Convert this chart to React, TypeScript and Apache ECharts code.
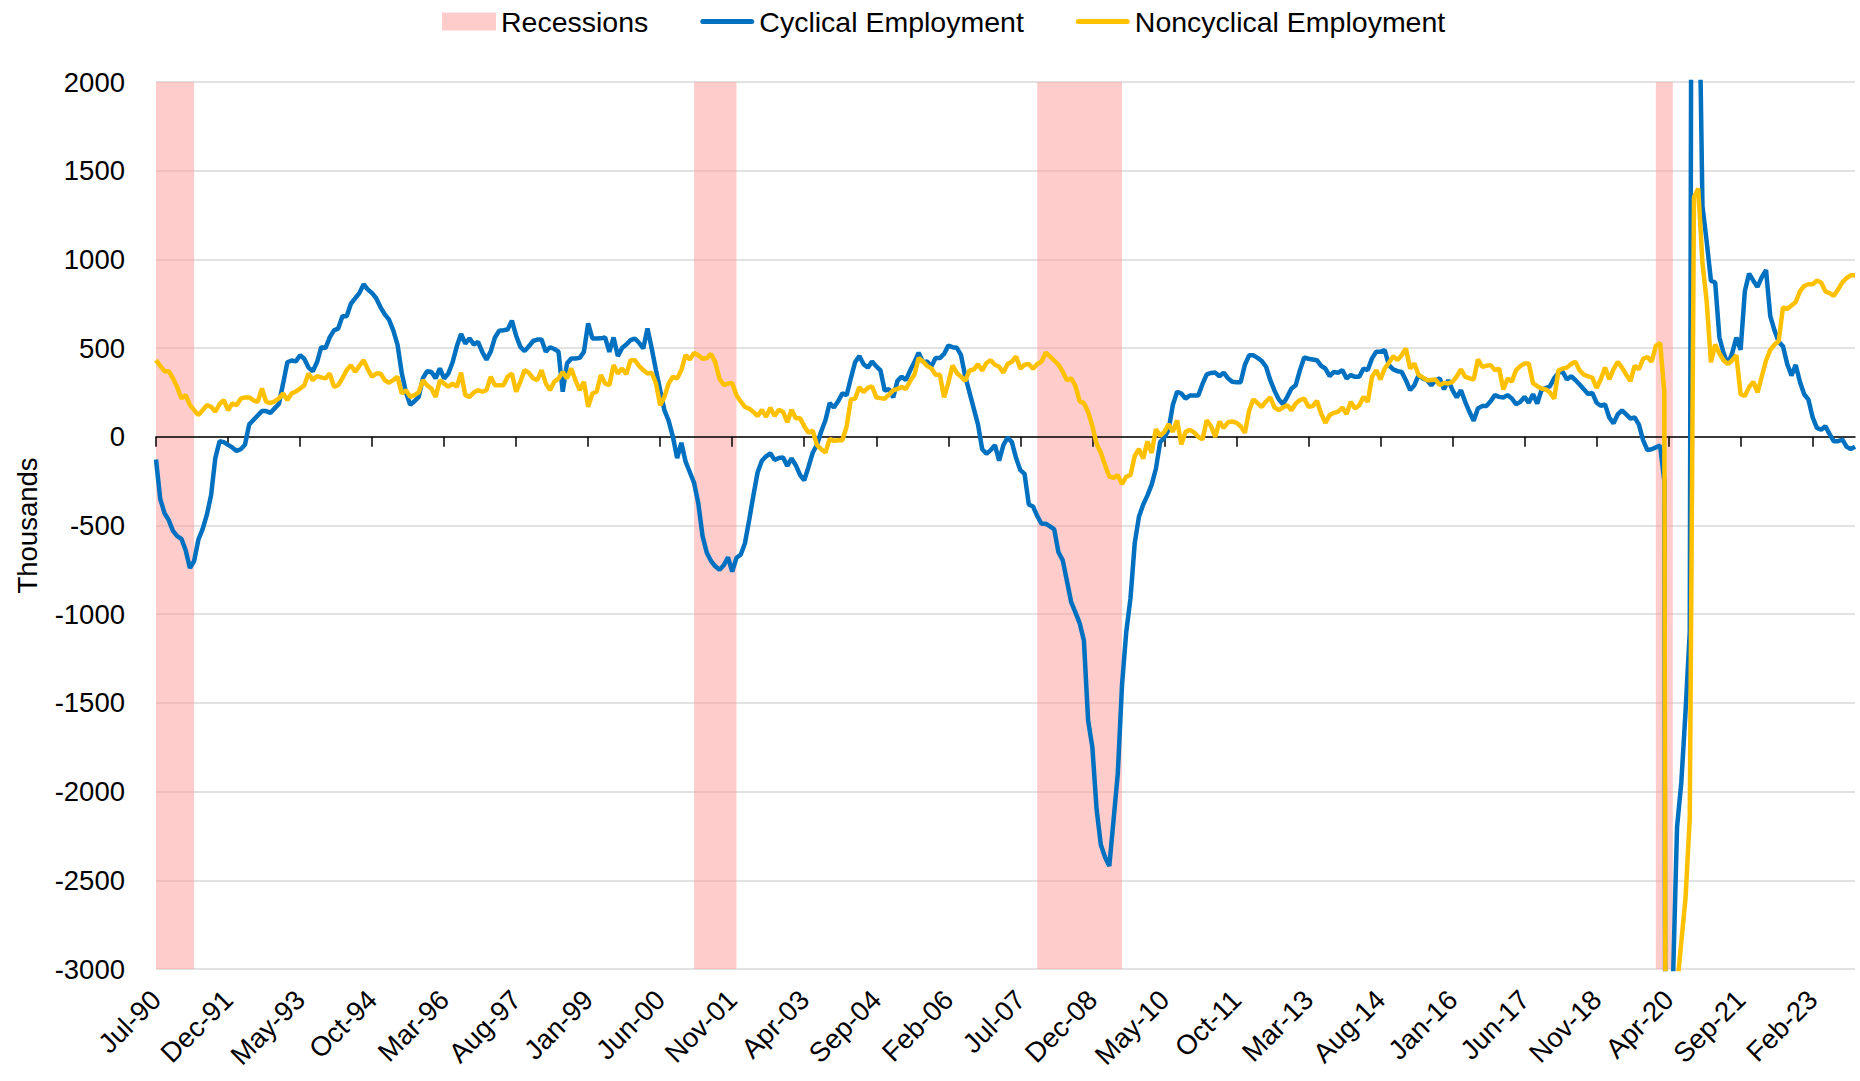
import React, { useEffect, useRef } from 'react';
import * as echarts from 'echarts';

// Monthly categories Jul-90 .. Dec-23
const MONTH_NAMES = ['Jan', 'Feb', 'Mar', 'Apr', 'May', 'Jun', 'Jul', 'Aug', 'Sep', 'Oct', 'Nov', 'Dec'];
const FIRST_YEAR = 1990;
const FIRST_MONTH = 6; // July (0-based)
const MONTH_COUNT = 402;
const categories: string[] = [];
for (let k = 0; k < MONTH_COUNT; k++) {
  const m = (FIRST_MONTH + k) % 12;
  const y = FIRST_YEAR + Math.floor((FIRST_MONTH + k) / 12);
  categories.push(`${MONTH_NAMES[m]}-${String(y % 100).padStart(2, '0')}`);
}

// Recession periods (start, end category)
const recessions: [string, string][] = [
  ['Jul-90', 'Apr-91'],
  ['Feb-01', 'Dec-01'],
  ['Nov-07', 'Jul-09'],
  ['Jan-20', 'May-20'],
];

// Cyclical Employment (thousands)
const cyclical: number[] = [
  -128, -350, -430, -470, -530, -560, -575, -640, -740, -700,
  -580, -520, -440, -330, -120, -25, -30, -45, -60, -80,
  -70, -45, 70, 95, 120, 145, 145, 135, 160, 185,
  300, 420, 430, 425, 460, 440, 390, 370, 420, 505,
  500, 560, 600, 610, 680, 680, 750, 780, 810, 860,
  830, 810, 780, 730, 690, 660, 600, 520, 360, 250,
  180, 200, 225, 330, 370, 365, 330, 385, 329, 357,
  420, 510, 580, 526, 555, 520, 535, 479, 435, 480,
  560, 598, 601, 605, 655, 570, 507, 483, 510, 540,
  548, 549, 480, 505, 495, 480, 254, 413, 441, 441,
  445, 480, 640, 554, 554, 555, 560, 479, 560, 455,
  500, 520, 545, 554, 530, 498, 611, 498, 376, 263,
  150, 90, 0, -120, -34, -140, -200, -260, -376, -560,
  -654, -700, -730, -750, -724, -680, -760, -682, -665, -600,
  -470, -330, -200, -135, -110, -93, -130, -120, -117, -164,
  -122, -160, -215, -245, -170, -90, -45, 30, 93, 190,
  165, 200, 245, 234, 330, 420, 456, 409, 390, 425,
  397, 374, 260, 269, 222, 315, 339, 320, 374, 421,
  474, 421, 425, 397, 444, 444, 467, 514, 505, 502,
  460, 340, 250, 160, 70, -70, -95, -75, -47, -134,
  -47, -4, -30, -120, -188, -209, -382, -393, -447, -490,
  -490, -505, -522, -651, -695, -813, -932, -990, -1050, -1148,
  -1600, -1750, -2100, -2300, -2370, -2420, -2161, -1900, -1400, -1100,
  -910, -600, -450, -382, -330, -270, -180, -30, -4, 40,
  180, 254, 244, 215, 233, 233, 233, 298, 352, 360,
  362, 341, 362, 330, 310, 308, 308, 406, 459, 459,
  445, 427, 395, 319, 260, 211, 184, 225, 272, 291,
  376, 447, 440, 436, 432, 400, 385, 342, 366, 361,
  376, 329, 348, 338, 338, 385, 376, 442, 479, 479,
  489, 404, 380, 370, 366, 319, 263, 291, 348, 329,
  319, 291, 319, 329, 267, 319, 263, 222, 263, 197,
  141, 90, 160, 173, 173, 200, 235, 225, 222, 235,
  216, 184, 197, 225, 192, 240, 188, 263, 275, 285,
  330, 360, 367, 324, 341, 320, 295, 268, 241, 248,
  192, 175, 182, 109, 76, 126, 149, 126, 103, 109,
  69, -20, -75, -70, -60, -50, -250, -15000, -3100, -2200,
  -1950, -1550, -1100, 9000, 2900, 1300, 1100, 880, 870, 560,
  470, 410, 470, 560, 490, 820, 920, 880, 845, 900,
  940, 680, 600, 535, 510, 410, 345, 405, 310, 240,
  210, 110, 50, 40, 60, 15, -25, -25, -15, -55,
  -70, -55,
];

// Noncyclical Employment (thousands)
const noncyclical: number[] = [
  432, 400, 370, 370, 330, 280, 216, 235, 180, 150,
  122, 150, 178, 169, 141, 185, 207, 150, 188, 178,
  215, 222, 222, 205, 197, 272, 197, 190, 200, 216,
  244, 207, 244, 255, 272, 290, 357, 319, 342, 335,
  329, 357, 282, 291, 330, 376, 404, 366, 400, 432,
  380, 338, 357, 357, 319, 305, 320, 338, 244, 263,
  225, 235, 250, 319, 290, 272, 225, 319, 300, 282,
  300, 282, 361, 235, 225, 250, 263, 254, 263, 338,
  291, 291, 291, 338, 357, 254, 310, 376, 360, 330,
  319, 376, 301, 263, 310, 329, 366, 329, 385, 319,
  263, 310, 169, 244, 254, 348, 301, 291, 404, 357,
  385, 353, 432, 432, 400, 376, 357, 361, 301, 178,
  225, 301, 338, 329, 376, 460, 436, 473, 460, 440,
  444, 467, 421, 327, 292, 300, 304, 234, 199, 168,
  159, 140, 117, 152, 112, 164, 117, 152, 140, 82,
  152, 105, 105, 60, 23, 35, -47, -70, -89, -12,
  -23, -20, -19, 58, 210, 215, 280, 252, 276, 285,
  222, 218, 215, 238, 262, 270, 280, 269, 315, 350,
  444, 425, 400, 386, 350, 350, 222, 304, 402, 360,
  339, 315, 374, 379, 409, 373, 416, 432, 406, 395,
  362, 410, 423, 453, 384, 406, 410, 384, 410, 423,
  475, 453, 430, 406, 367, 319, 330, 287, 201, 190,
  140, 60, -40, -90, -160, -224, -231, -216, -267, -224,
  -216, -108, -69, -123, -26, -91, 43, 6, 28, 71,
  28, 93, -43, 28, 39, 25, 0, -15, 93, 60,
  0, 86, 50, 82, 86, 80, 60, 22, 147, 211,
  190, 168, 200, 222, 165, 150, 165, 178, 150, 188,
  207, 216, 169, 173, 203, 131, 79, 122, 135, 141,
  165, 128, 197, 160, 178, 225, 197, 338, 376, 323,
  385, 417, 455, 432, 460, 498, 385, 413, 348, 334,
  319, 320, 323, 291, 304, 301, 310, 340, 380, 338,
  330, 323, 436, 395, 400, 404, 376, 385, 267, 329,
  310, 376, 398, 413, 413, 301, 285, 272, 267, 250,
  215, 374, 385, 390, 410, 423, 374, 350, 341, 334,
  275, 324, 390, 324, 380, 423, 390, 350, 314, 400,
  380, 440, 450, 423, 513, 529, 250, -14000, -6000, -3100,
  -2850, -2600, -2150, 1350, 1400, 980, 760, 420, 520, 470,
  430, 410, 430, 460, 240, 230, 280, 310, 250, 340,
  430, 490, 520, 540, 730, 720, 740, 760, 820, 850,
  860, 860, 880, 870, 820, 810, 795, 830, 870, 895,
  910, 910,
];

const FONT = 'Liberation Sans';
const FS = 27.5;
const LEGEND_FS = 28.5;
const BLUE = '#0070C0';
const YELLOW = '#FFC000';
const PINK = 'rgba(255,153,153,0.5)';
// legend icon: a thin rounded bar centred in a 54x18 box
const LINE_ICON =
  'path://M0,0 M54,18 M2.5,6.5 H51.5 A2.5,2.5 0 0 1 51.5,11.5 H2.5 A2.5,2.5 0 0 1 2.5,6.5 Z';

export default function App() {
  const ref = useRef<HTMLDivElement>(null);
  useEffect(() => {
    if (!ref.current) return;
    const chart = echarts.init(ref.current, null, { renderer: 'svg' });
    const option: any = {
      animation: false,
      backgroundColor: '#ffffff',
      textStyle: { fontFamily: FONT },
      grid: { left: 156, right: 5, top: 82, bottom: 112, containLabel: false },
      legend: {
        left: 442,
        top: 7,
        padding: 0,
        itemWidth: 54,
        itemHeight: 18,
        itemGap: 52,
        textStyle: { fontFamily: FONT, fontSize: LEGEND_FS, color: '#000' },
        data: [
          { name: 'Recessions', icon: 'rect' },
          { name: 'Cyclical Employment', icon: LINE_ICON, itemStyle: { color: BLUE, borderWidth: 0 } },
          { name: 'Noncyclical Employment', icon: LINE_ICON, itemStyle: { color: YELLOW, borderWidth: 0 } },
        ],
      },
      xAxis: [
        {
          type: 'category',
          data: categories,
          boundaryGap: false,
          position: 'bottom',
          z: 2,
          axisLine: { show: true, onZero: true, lineStyle: { color: '#000', width: 1.5 } },
          axisTick: { show: true, interval: 16, length: 10, lineStyle: { color: '#000', width: 1.5 } },
          axisLabel: { show: false, interval: 16 },
          splitLine: { show: false },
        },
        {
          type: 'category',
          data: categories,
          boundaryGap: false,
          position: 'bottom',
          axisLine: { show: false, onZero: false },
          axisTick: { show: false },
          splitLine: { show: false },
          axisLabel: {
            interval: 16,
            rotate: 45,
            margin: 26,
            fontFamily: FONT,
            fontSize: FS,
            color: '#000',
          },
        },
      ],
      yAxis: {
        type: 'value',
        min: -3000,
        max: 2000,
        interval: 500,
        name: 'Thousands',
        nameLocation: 'middle',
        nameGap: 115,
        nameTextStyle: { fontFamily: FONT, fontSize: FS, color: '#000' },
        axisLine: { show: false },
        axisTick: { show: false },
        axisLabel: {
          fontFamily: FONT,
          fontSize: FS,
          color: '#000',
          margin: 31,
          formatter: (v: number) => String(v),
        },
        splitLine: { show: true, lineStyle: { color: '#D9D9D9', width: 1.5 } },
      },
      series: [
        {
          name: 'Recessions',
          type: 'line',
          data: [],
          z: 1,
          symbol: 'none',
          itemStyle: { color: PINK },
          lineStyle: { color: PINK },
          markArea: {
            silent: true,
            itemStyle: { color: PINK, borderWidth: 0 },
            data: recessions.map(([a, b]) => [{ xAxis: a }, { xAxis: b }]),
          },
        },
        {
          name: 'Cyclical Employment',
          type: 'line',
          data: cyclical,
          z: 3,
          symbol: 'none',
          showSymbol: false,
          clip: true,
          itemStyle: { color: BLUE },
          lineStyle: { color: BLUE, width: 4.5 },
        },
        {
          name: 'Noncyclical Employment',
          type: 'line',
          data: noncyclical,
          z: 4,
          symbol: 'none',
          showSymbol: false,
          clip: true,
          itemStyle: { color: YELLOW },
          lineStyle: { color: YELLOW, width: 4.5 },
        },
      ],
    };
    chart.setOption(option);
    return () => chart.dispose();
  }, []);
  return (
    <div
      ref={ref}
      style={{ position: 'fixed', left: 0, top: 0, width: '1860px', height: '1081px', background: '#fff' }}
    />
  );
}
